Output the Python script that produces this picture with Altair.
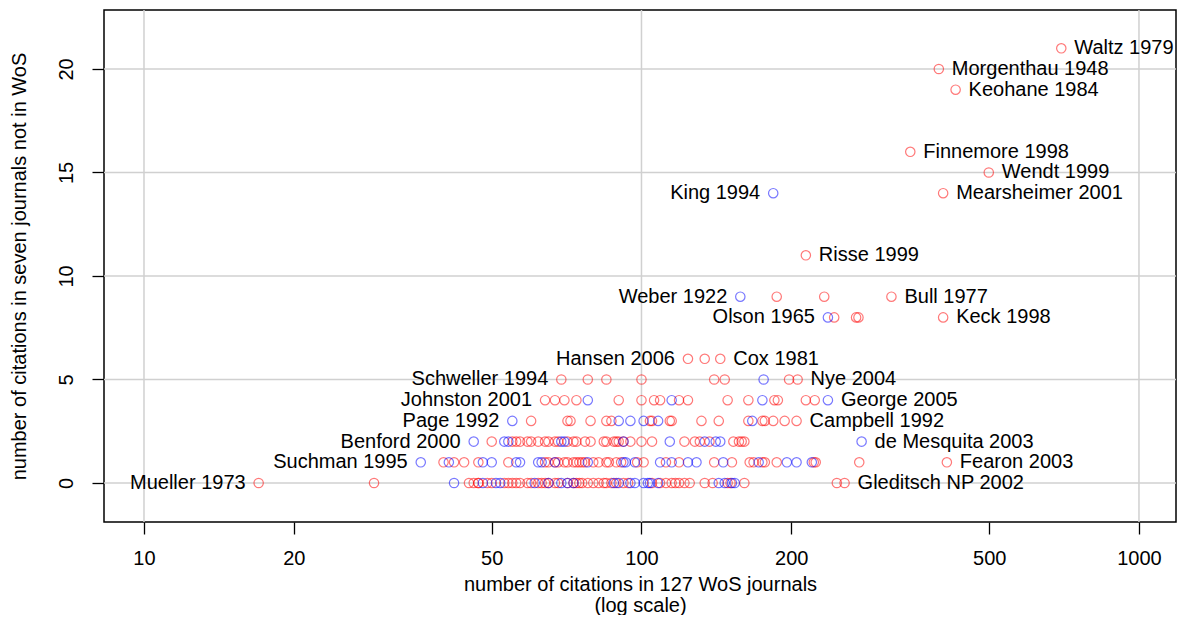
import altair as alt
import pandas as pd

# citations in 127 WoS journals (x), grouped by row = citations in seven journals not in WoS (y)
red_0 = [17, 29, 45, 46, 47, 47, 49, 50, 53, 54, 55, 56, 57, 59, 60, 62, 63, 64, 65, 67, 68, 71, 73, 74, 75, 76,
         78, 80, 82, 84, 85, 87, 89, 92, 94, 105, 109, 112, 115, 117, 119, 122, 125, 134, 139, 149, 151, 161, 247, 256]
blue_0 = [42, 48, 51, 52, 61, 65, 69, 71, 73, 88, 90, 95, 97, 101, 103, 104, 108, 143, 147, 152, 154]
red_1 = [40, 42, 44, 47, 54, 64, 65, 67, 68, 70, 71, 73, 74, 75, 76, 77, 80, 82, 85, 86, 89, 91, 98, 101, 112,
         119, 140, 152, 165, 168, 175, 177, 187, 222, 224, 274, 411]
blue_1 = [36, 41, 48, 50, 56, 57, 62, 63, 67, 78, 92, 93, 97, 109, 115, 124, 129, 146, 172, 196, 205, 220]
red_2 = [50, 55, 56, 57, 59, 60, 62, 64, 65, 67, 68, 71, 73, 74, 77, 79, 84, 85, 88, 89, 90, 92, 95, 100, 105,
         122, 128, 131, 137, 153, 157, 159, 161]
blue_2 = [46, 53, 54, 69, 70, 92, 114, 134, 141, 144, 277]
red_3 = [60, 71, 72, 79, 85, 87, 104, 105, 114, 115, 132, 143, 164, 175, 177, 184, 194, 205]
blue_3 = [55, 90, 95, 101, 108, 167]
red_4 = [64, 67, 70, 74, 90, 100, 106, 109, 119, 124, 149, 164, 185, 188, 214, 223]
blue_4 = [78, 115, 175, 237]
red_5 = [69, 78, 85, 100, 140, 147, 198, 206]
blue_5 = [176]
red_6 = [124, 134, 144]
red_8 = [244, 270, 273, 404]
blue_8 = [237]
red_9 = [187, 233, 318]
blue_9 = [158]
red_11 = [214]
red_14 = [404]
blue_14 = [184]
red_15 = [499]
red_16 = [347]
red_19 = [428]
red_20 = [396]
red_21 = [698]

red_rows = {0: red_0, 1: red_1, 2: red_2, 3: red_3, 4: red_4, 5: red_5, 6: red_6, 8: red_8, 9: red_9,
            11: red_11, 14: red_14, 15: red_15, 16: red_16, 19: red_19, 20: red_20, 21: red_21}
blue_rows = {0: blue_0, 1: blue_1, 2: blue_2, 3: blue_3, 4: blue_4, 5: blue_5, 8: blue_8, 9: blue_9,
             14: blue_14}

left_names = ["Mueller 1973", "Suchman 1995", "Benford 2000", "Page 1992", "Johnston 2001",
              "Schweller 1994", "Hansen 2006", "Olson 1965", "Weber 1922", "King 1994"]
left_x = [17, 36, 46, 55, 64, 69, 124, 237, 158, 184]
left_y = [0, 1, 2, 3, 4, 5, 6, 8, 9, 14]

right_names = ["Gleditsch NP 2002", "Fearon 2003", "de Mesquita 2003", "Campbell 1992", "George 2005",
               "Nye 2004", "Cox 1981", "Keck 1998", "Bull 1977", "Risse 1999", "Mearsheimer 2001",
               "Wendt 1999", "Finnemore 1998", "Keohane 1984", "Morgenthau 1948", "Waltz 1979"]
right_x = [256, 411, 277, 205, 237, 206, 144, 404, 318, 214, 404, 499, 347, 428, 396, 698]
right_y = [0, 1, 2, 3, 4, 5, 6, 8, 9, 11, 14, 15, 16, 19, 20, 21]

x_ticks = [10, 20, 50, 100, 200, 500, 1000]
x_grid = [10, 100, 1000]
y_ticks = [0, 5, 10, 15, 20]

rows = []
for y, xs in red_rows.items():
    for x in xs:
        rows.append({"cites": x, "other": y, "group": "red"})
for y, xs in blue_rows.items():
    for x in xs:
        rows.append({"cites": x, "other": y, "group": "blue"})
pts = pd.DataFrame(rows)
left_df = pd.DataFrame({"cites": left_x, "other": left_y, "name": left_names})
right_df = pd.DataFrame({"cites": right_x, "other": right_y, "name": right_names})
gx_df = pd.DataFrame({"cites": x_grid})
gy_df = pd.DataFrame({"other": y_ticks})

FONT = "Liberation Sans"
xscale = alt.Scale(type="log", domain=[8.31, 1187], nice=False, zero=False)
yscale = alt.Scale(domain=[-1.884, 22.85], nice=False, zero=False)

x_axis = alt.Axis(values=x_ticks, format="d", grid=False, domain=False, tickSize=12,
                  tickColor="black", tickWidth=1.3, labelFont=FONT, labelFontSize=20,
                  labelColor="black", labelPadding=14, labelFlush=False,
                  title=["number of citations in 127 WoS journals", "(log scale)"],
                  titleFont=FONT, titleFontSize=20, titleFontWeight="normal",
                  titleColor="black", titlePadding=6, titleLineHeight=21)
y_axis = alt.Axis(values=y_ticks, grid=False, domain=False, tickSize=12, tickColor="black",
                  tickWidth=1.3, labelFont=FONT, labelFontSize=20, labelColor="black",
                  labelAngle=270, labelAlign="center", labelBaseline="bottom",
                  labelPadding=16, labelFlush=False,
                  title="number of citations in seven journals not in WoS",
                  titleFont=FONT, titleFontSize=20, titleFontWeight="normal",
                  titleColor="black", titlePadding=27)

X = alt.X("cites:Q", scale=xscale, axis=x_axis)
Y = alt.Y("other:Q", scale=yscale, axis=y_axis)

grid_x = alt.Chart(gx_df).mark_rule(color="#d0d0d0", strokeWidth=1.5).encode(x=X)
grid_y = alt.Chart(gy_df).mark_rule(color="#d0d0d0", strokeWidth=1.5).encode(y=Y)

points = alt.Chart(pts).mark_point(shape="circle", filled=False, size=88, strokeWidth=1.2,
                                   strokeOpacity=0.75).encode(
    x=X, y=Y,
    color=alt.Color("group:N", scale=alt.Scale(domain=["red", "blue"], range=["#ff0000", "#0000ff"]),
                    legend=None),
)

text_left = alt.Chart(left_df).mark_text(align="right", baseline="middle", dx=-13, font=FONT,
                                         fontSize=20, color="black").encode(x=X, y=Y, text="name:N")
text_right = alt.Chart(right_df).mark_text(align="left", baseline="middle", dx=13, font=FONT,
                                           fontSize=20, color="black").encode(x=X, y=Y, text="name:N")

chart = alt.layer(grid_x, grid_y, points, text_left, text_right).properties(
    width=1072, height=512,
    autosize=alt.AutoSizeParams(type="none"),
    padding={"left": 96, "top": 2, "right": 1, "bottom": 93},
).configure_view(stroke="black", strokeWidth=1.5)

chart.save("out.html", embed_options={"renderer": "svg", "actions": False})
